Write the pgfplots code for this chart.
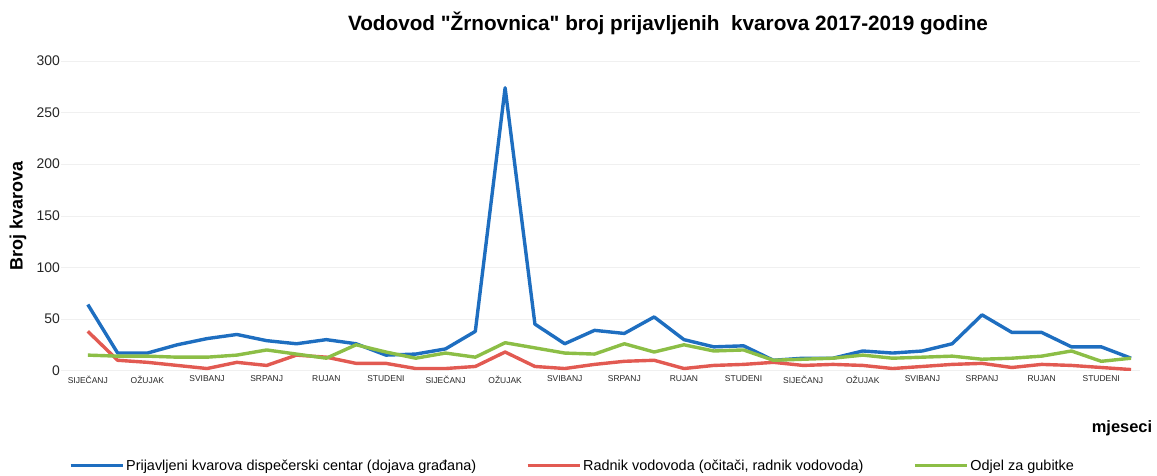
\documentclass[border=0pt]{standalone}
\usepackage{fontspec}
\setmainfont{Liberation Sans}[Ligatures=TeXOff]
\usepackage{pgfplots}
\pgfplotsset{compat=1.18}
\definecolor{cblue}{RGB}{30,110,192}
\definecolor{cred}{RGB}{226,90,82}
\definecolor{cgreen}{RGB}{140,190,70}
\begin{document}
\begin{tikzpicture}[x=1bp,y=1bp]
\path (0,0) rectangle (1157,476);
\node[font=\fontsize{20.8}{24}\selectfont\bfseries] at (668,453) {Vodovod "Žrnovnica" broj prijavljenih\ \ kvarova 2017-2019 godine};
\node[font=\fontsize{18}{21}\selectfont\bfseries, rotate=90] at (18,260) {Broj kvarova};
\node[font=\fontsize{16.5}{19}\selectfont\bfseries] at (1122,48) {mjeseci};
\begin{axis}[
  at={(61bp,105.4bp)}, anchor=south west, scale only axis,
  width=1079bp, height=309.6bp,
  xmin=-0.9, xmax=35.3, ymin=0, ymax=300,
  axis line style={draw=none}, major tick length=0pt,
  ytick={0,50,...,300}, ymajorgrids, grid style={black!6, line width=0.5bp},
  xtick={0,2,...,34},
  xticklabels={SIJEČANJ,OŽUJAK,SVIBANJ,SRPANJ,RUJAN,STUDENI,SIJEČANJ,OŽUJAK,SVIBANJ,SRPANJ,RUJAN,STUDENI,SIJEČANJ,OŽUJAK,SVIBANJ,SRPANJ,RUJAN,STUDENI},
  xticklabel style={font=\fontsize{8.5}{10}\selectfont, inner sep=1bp, text=black!85, yshift=-4bp},
  yticklabel style={font=\fontsize{14}{16}\selectfont, inner sep=1bp, text=black!85},
  /pgf/number format/assume math mode=true,
  legend columns=3,
  legend style={at={(0.0046,-0.308)}, anchor=west, draw=none, fill=none,
    font=\fontsize{14.5}{17}\selectfont,
    /tikz/every even column/.append style={column sep=48bp}},
  legend image code/.code={\draw[#1, line width=3bp] (0bp,0bp) -- (52bp,0bp);},
  every axis plot/.append style={line width=3.4bp, line join=round, mark=none},
]
\addplot[cblue] coordinates {(0,64)(1,17)(2,17)(3,25)(4,31)(5,35)(6,29)(7,26)(8,30)(9,26)(10,15)(11,16)(12,21)(13,38)(14,274)(15,45)(16,26)(17,39)(18,36)(19,52)(20,30)(21,23)(22,24)(23,10)(24,12)(25,12)(26,19)(27,17)(28,19)(29,26)(30,54)(31,37)(32,37)(33,23)(34,23)(35,12)};
\addplot[cred] coordinates {(0,38)(1,10)(2,8)(3,5)(4,2)(5,8)(6,5)(7,15)(8,13)(9,7)(10,7)(11,2)(12,2)(13,4)(14,18)(15,4)(16,2)(17,6)(18,9)(19,10)(20,2)(21,5)(22,6)(23,8)(24,5)(25,6)(26,5)(27,2)(28,4)(29,6)(30,7)(31,3)(32,6)(33,5)(34,3)(35,1)};
\addplot[cgreen] coordinates {(0,15)(1,14)(2,14)(3,13)(4,13)(5,15)(6,20)(7,16)(8,12)(9,25)(10,18)(11,12)(12,17)(13,13)(14,27)(15,22)(16,17)(17,16)(18,26)(19,18)(20,25)(21,19)(22,20)(23,10)(24,11)(25,12)(26,15)(27,12)(28,13)(29,14)(30,11)(31,12)(32,14)(33,19)(34,9)(35,12)};
\legend{{Prijavljeni kvarova dispečerski centar (dojava građana)},{Radnik vodovoda (očitači, radnik vodovoda)},{Odjel za gubitke}}
\end{axis}
\end{tikzpicture}
\end{document}
